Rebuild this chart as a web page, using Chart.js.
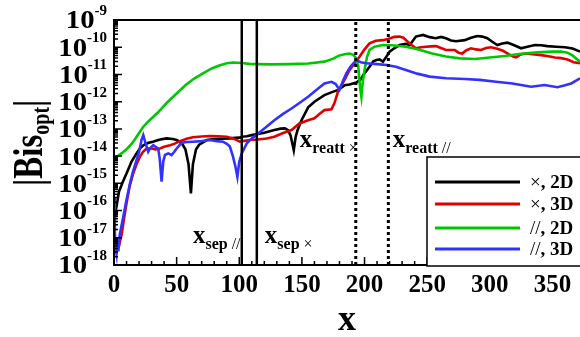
<!DOCTYPE html>
<html>
<head>
<meta charset="utf-8">
<script src="https://cdn.jsdelivr.net/npm/chart.js@4.4.0/dist/chart.umd.min.js"></script>
<style>
  html, body { margin: 0; padding: 0; background: #fff; }
  #wrap { width: 580px; height: 337px; position: relative; }
</style>
</head>
<body>
<div id="wrap"><canvas id="chart"></canvas></div>
<script>
// axis ticks
const xTicks = [0, 50, 100, 150, 200, 250, 300, 350];
const yTickExps = [-18, -17, -16, -15, -14, -13, -12, -11, -10, -9];

// series (x, log10 |Bis_opt|)
const seriesNames = ['×, 2D', '×, 3D', '//, 2D', '//, 3D'];
const seriesColors = ['#000000', '#e00000', '#00c800', '#3232ff'];

const blackX = [0, 1, 2, 4, 7, 10, 14, 18, 21, 23.4, 27, 31, 36, 42, 47, 50, 54, 57, 59.5, 61.4, 63, 65.5, 68, 74, 80, 86, 92.5, 97, 100.5, 102, 106, 110, 115, 120, 128, 133, 136.4, 139, 141, 143.5, 145, 146.5, 149.7, 155, 160, 168, 174, 179, 184, 188, 193.5, 197, 199, 204, 207, 209.5, 212, 214.7, 217, 220, 224, 228, 233, 236, 238, 241, 246.7, 252, 257, 261, 265, 269, 273, 280, 285, 290, 294, 298, 302, 306, 310, 314, 319, 325, 330, 336, 341, 346, 353, 360, 366, 372];
const blackLog = [-16.6, -16.1, -15.85, -15.3, -14.95, -14.64, -14.2, -13.9, -13.7, -13.6, -13.52, -13.47, -13.4, -13.35, -13.37, -13.41, -13.52, -13.75, -14.3, -15.37, -14.3, -13.75, -13.58, -13.41, -13.37, -13.36, -13.35, -13.33, -13.32, -13.29, -13.27, -13.23, -13.19, -13.14, -13.04, -12.99, -12.98, -13.05, -13.25, -13.78, -13.3, -13.05, -12.68, -12.21, -12.0, -11.76, -11.65, -11.57, -11.4, -11.37, -11.3, -11.18, -11.02, -10.72, -10.52, -10.47, -10.45, -10.53, -10.38, -10.16, -10.03, -9.92, -9.88, -9.92, -9.8, -9.61, -9.55, -9.63, -9.67, -9.62, -9.67, -9.75, -9.78, -9.74, -9.65, -9.59, -9.61, -9.67, -9.8, -9.92, -9.86, -9.83, -9.92, -10.04, -9.98, -9.92, -9.93, -9.96, -9.98, -10.0, -10.05, -10.16];

const redX = [4, 6, 8, 10, 12.5, 15.4, 18, 20.7, 23, 26, 30, 33, 36.7, 40, 44.7, 48, 52.6, 58, 63, 70, 76.6, 83, 90, 95, 100.5, 104, 110, 115, 121.8, 128, 135, 141.7, 148, 155, 160, 164, 168, 173.6, 176, 179, 184, 188, 192, 196, 200, 204, 209, 214.7, 220, 224, 228, 231, 236, 241, 245, 249, 253, 257, 261, 265, 272, 275, 278, 281, 285, 289, 293, 297, 301, 306, 310.5, 315, 319, 321, 324, 328, 334, 341, 347, 352, 357, 362, 367, 372];
const redLog = [-17.3, -16.9, -16.3, -15.73, -15.1, -14.63, -14.3, -14.02, -13.85, -13.72, -13.72, -13.75, -13.72, -13.66, -13.6, -13.55, -13.45, -13.36, -13.31, -13.28, -13.26, -13.27, -13.29, -13.35, -13.47, -13.44, -13.4, -13.39, -13.35, -13.29, -13.15, -13.04, -12.8, -12.68, -12.61, -12.45, -12.31, -12.28, -12.05, -11.6, -11.2, -10.84, -10.6, -10.35, -10.08, -9.86, -9.76, -9.74, -9.68, -9.62, -9.61, -9.65, -9.86, -10.04, -10.0, -9.98, -9.97, -9.96, -10.03, -10.1, -10.1, -10.2, -10.23, -10.12, -10.04, -10.08, -10.1, -10.03, -10.0, -10.06, -10.13, -10.25, -10.35, -10.37, -10.28, -10.23, -10.26, -10.29, -10.33, -10.38, -10.4, -10.45, -10.55, -10.59];

const greenX = [0, 2, 6, 10, 15, 20, 23.4, 28, 35, 42, 50, 57, 64, 71, 78, 84, 90, 95, 102, 108, 114, 125, 140, 155, 168, 175, 180, 184, 188, 191, 193.5, 195, 196.5, 197.5, 198.5, 200, 202, 204, 208, 214.6, 222, 233, 243, 254, 265, 276, 288, 300, 312, 325, 338, 350, 357, 362, 366, 372];
const greenLog = [-14.1, -14.03, -13.9, -13.75, -13.5, -13.15, -12.92, -12.7, -12.4, -12.05, -11.7, -11.4, -11.15, -10.96, -10.78, -10.67, -10.59, -10.56, -10.58, -10.61, -10.62, -10.63, -10.62, -10.6, -10.53, -10.42, -10.3, -10.26, -10.23, -10.28, -10.41, -10.7, -11.5, -11.82, -11.3, -10.84, -10.35, -10.1, -9.98, -9.92, -9.93, -9.98, -10.08, -10.23, -10.34, -10.41, -10.43, -10.38, -10.32, -10.24, -10.19, -10.16, -10.16, -10.2, -10.3, -10.53];

const blueX = [0, 0.7, 1.3, 2, 2.7, 3.5, 4.5, 7.4, 10, 12.8, 15, 18, 20, 22, 23.4, 25, 27.3, 29, 31.3, 33, 35.3, 36.5, 38, 39.3, 40.7, 43.3, 46, 48, 50, 54, 58, 63, 70, 76.5, 82, 87, 90, 92.5, 95, 97, 98.5, 100, 102, 106, 110, 115, 121, 128, 135, 141.7, 148, 155, 162, 168, 173.6, 177, 180, 183, 185.5, 189, 193.5, 197, 201.5, 210, 217.5, 225, 233, 242, 252, 265, 280, 292, 305, 318, 333, 343.7, 354, 360, 365, 372];
const blueLog = [-15.5, -16.8, -17.4, -17.6, -17.1, -17.5, -16.9, -16.23, -15.6, -15.0, -14.6, -14.15, -13.85, -13.4, -13.23, -13.5, -13.84, -13.7, -13.6, -13.65, -13.72, -14.1, -14.94, -14.2, -13.96, -13.9, -13.96, -13.85, -13.72, -13.51, -13.48, -13.47, -13.45, -13.41, -13.45, -13.47, -13.55, -13.65, -14.02, -14.4, -14.76, -14.2, -13.9, -13.53, -13.35, -13.17, -12.95, -12.68, -12.45, -12.25, -12.05, -11.82, -11.55, -11.33, -11.27, -11.35, -11.57, -11.21, -10.96, -10.7, -10.47, -10.55, -10.59, -10.62, -10.65, -10.72, -10.84, -10.97, -11.08, -11.14, -11.17, -11.2, -11.27, -11.33, -11.45, -11.39, -11.47, -11.4, -11.33, -11.14];

// separation / reattachment markers
const sepX = [102, 114];
const reattX = [193, 219];

const Y_MIN = 1e-18, Y_MAX = 1e-9;
const SERIF = '"Liberation Serif", "Times New Roman", serif';

function pts(xs, logs) {
    return xs.map((x, i) => ({ x: x, y: Math.pow(10, logs[i]) }));
}
function vline(x, dashed) {
    return {
        data: [{ x: x, y: Y_MIN }, { x: x, y: Y_MAX }],
        borderColor: '#000', borderWidth: dashed ? 3 : 2.5,
        borderDash: dashed ? [3, 3] : [],
        pointRadius: 0, showLine: true, order: 0, isMarker: true
    };
}

const curves = [[blackX, blackLog], [redX, redLog], [greenX, greenLog], [blueX, blueLog]];
const datasets = curves.map((c, i) => ({
    label: seriesNames[i],
    data: pts(c[0], c[1]),
    borderColor: seriesColors[i],
    borderWidth: 2.6,
    pointRadius: 0,
    showLine: true,
    order: 4 - i
}));
sepX.forEach(x => datasets.push(vline(x, false)));
reattX.forEach(x => datasets.push(vline(x, true)));

const notes = [
    { x: 63, y: -17.2, sub: 'sep', sym: ' //' },
    { x: 120.4, y: -17.2, sub: 'sep', sym: ' ×' },
    { x: 148.3, y: -13.67, sub: 'reatt', sym: ' ×' },
    { x: 222.5, y: -13.67, sub: 'reatt', sym: ' //' }
];

const decor = {
    id: 'decor',
    afterDatasetsDraw(chart) {
        const ctx = chart.ctx;
        const a = chart.chartArea;
        const xs = chart.scales.x, ys = chart.scales.y;
        ctx.save();
        ctx.strokeStyle = '#000';
        ctx.fillStyle = '#000';

        // frame
        ctx.lineWidth = 2;
        ctx.beginPath();
        ctx.moveTo(a.right + 2, a.top); ctx.lineTo(a.left, a.top);
        ctx.lineTo(a.left, a.bottom); ctx.lineTo(a.right + 2, a.bottom);
        ctx.stroke();

        // y ticks (inward) + labels
        ctx.lineWidth = 1.5;
        ctx.beginPath();
        yTickExps.forEach(e => {
            const py = ys.getPixelForValue(Math.pow(10, e));
            ctx.moveTo(a.left, py); ctx.lineTo(a.left + 8, py);
            if (e < -9) {
                for (let k = 2; k <= 9; k++) {
                    const pm = ys.getPixelForValue(k * Math.pow(10, e));
                    ctx.moveTo(a.left, pm); ctx.lineTo(a.left + 4, pm);
                }
            }
        });
        ctx.stroke();

        yTickExps.forEach(e => {
            const py = ys.getPixelForValue(Math.pow(10, e));
            const ex = String(e);
            ctx.font = 'bold 15px ' + SERIF;
            ctx.textAlign = 'right';
            ctx.textBaseline = 'middle';
            const ew = ctx.measureText(ex).width;
            ctx.fillText(ex, 107, py - 9);
            ctx.font = 'bold 25px ' + SERIF;
            ctx.save();
            ctx.translate(107 - ew, py + 2);
            ctx.scale(1.15, 1);
            ctx.fillText('10', 0, 0);
            ctx.restore();
        });

        // x ticks (inward) + labels
        ctx.beginPath();
        for (let v = 0; v <= xs.max; v += 10) {
            const px = xs.getPixelForValue(v);
            const len = v % 50 === 0 ? 8 : 4;
            ctx.moveTo(px, a.bottom); ctx.lineTo(px, a.bottom - len);
        }
        ctx.stroke();
        ctx.font = 'bold 25px ' + SERIF;
        ctx.textAlign = 'center';
        ctx.textBaseline = 'alphabetic';
        xTicks.forEach(v => ctx.fillText(String(v), xs.getPixelForValue(v), 292));

        // axis titles
        ctx.font = 'bold 36px ' + SERIF;
        ctx.fillText('x', (a.left + a.right) / 2, 330);

        ctx.save();
        ctx.translate(42, 186);
        ctx.rotate(-Math.PI / 2);
        ctx.scale(1, 1.3);
        ctx.textAlign = 'left';
        ctx.font = 'bold 33px ' + SERIF;
        let w = 0;
        ctx.fillText('|Bis', 0, 0); w += ctx.measureText('|Bis').width;
        ctx.font = 'bold 20px ' + SERIF;
        ctx.fillText('opt', w, 5); w += ctx.measureText('opt').width;
        ctx.font = 'bold 33px ' + SERIF;
        ctx.fillText('|', w, 0);
        ctx.restore();

        // marker notes
        notes.forEach(n => {
            const px = xs.getPixelForValue(n.x);
            const py = ys.getPixelForValue(Math.pow(10, n.y));
            ctx.textAlign = 'left';
            ctx.font = 'bold 25px ' + SERIF;
            ctx.fillText('x', px, py);
            let off = px + ctx.measureText('x').width;
            ctx.font = 'bold 16px ' + SERIF;
            ctx.fillText(n.sub, off, py + 6);
            off += ctx.measureText(n.sub).width;
            ctx.font = '16px ' + SERIF;
            ctx.fillText(n.sym, off, py + 6);
        });

        // legend
        ctx.fillStyle = '#fff';
        ctx.fillRect(427, 157, 160, 109);
        ctx.lineWidth = 1.5;
        ctx.strokeRect(427, 157, 160, 109);
        const rows = [182, 204, 228, 249];
        chart.data.datasets.forEach((d, i) => {
            if (d.isMarker) return;
            const y = rows[i];
            ctx.strokeStyle = d.borderColor;
            ctx.lineWidth = 3;
            ctx.beginPath(); ctx.moveTo(435, y); ctx.lineTo(520, y); ctx.stroke();
            const parts = d.label.split(',');
            ctx.fillStyle = '#000';
            ctx.textBaseline = 'middle';
            ctx.font = '19px ' + SERIF;
            ctx.fillText(parts[0], 530, y + 1);
            const sw = ctx.measureText(parts[0]).width;
            ctx.font = 'bold 19px ' + SERIF;
            ctx.fillText(',' + parts[1], 530 + sw, y + 1);
        });
        ctx.restore();
    }
};

new Chart(document.getElementById('chart'), {
    type: 'scatter',
    data: { datasets: datasets },
    options: {
        responsive: true,
        maintainAspectRatio: false,
        animation: false,
        layout: { padding: { left: 114, top: 20, right: 0, bottom: 72 } },
        scales: {
            x: { type: 'linear', min: 0, max: 372, display: false },
            y: { type: 'logarithmic', min: Y_MIN, max: Y_MAX, display: false }
        },
        plugins: { legend: { display: false }, tooltip: { enabled: false } }
    },
    plugins: [decor]
});
</script>
</body>
</html>
